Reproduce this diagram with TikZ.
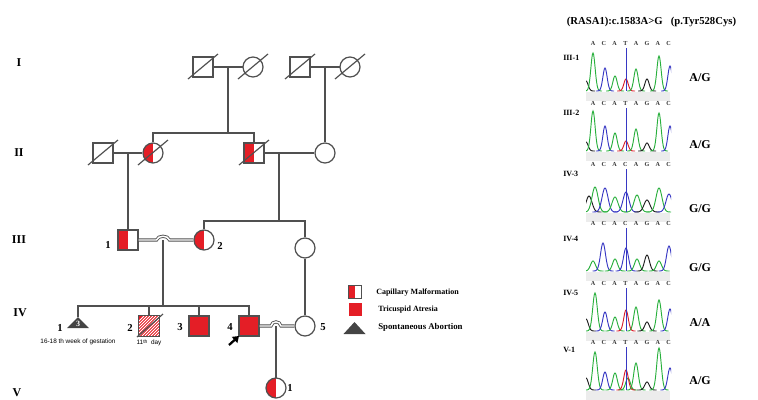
\documentclass[tikz,border=0pt]{standalone}
\usepackage{fontspec}
\setmainfont{Liberation Serif}
\newfontfamily\notefont{Liberation Sans}
\usetikzlibrary{arrows.meta}
\definecolor{pedgray}{RGB}{80,80,80}
\definecolor{cmred}{RGB}{228,30,38}
\definecolor{trigray}{RGB}{68,68,68}
\definecolor{chgreen}{RGB}{40,175,60}
\definecolor{chblue}{RGB}{55,55,195}
\definecolor{chred}{RGB}{215,30,45}
\definecolor{chblack}{RGB}{30,30,30}
\definecolor{bandgray}{RGB}{236,236,236}
\def\sg{3}
\newcommand\pk[4]{\draw[#4,line width=0.7pt] plot[domain={#1-3*\sg}:{#1+3*\sg},samples=31,smooth] (\x,{#2-#3*exp(0-((\x-#1)/\sg)^2)});}
\newcommand\chrom[3]{%
  \pgfmathsetmacro\B{#1+48}%
  \fill[bandgray] (586,\B+1) rectangle (670,\B+10);
  \foreach \c [count=\i from 0] in {#2} \node[seqletter] (seq-#1-\i) at ({593+10.8*\i},#1) {\c};
  \begin{scope}
    \clip (586,#1+4) rectangle (671,\B+0.6);
    #3
  \end{scope}
  \draw[chblue,line width=0.6pt] (626,#1+5) -- (626,\B);
}
\begin{document}
\begin{tikzpicture}[x=0.75pt,y=-0.75pt,
  pedline/.style={draw=pedgray,line width=0.9pt},
  sq/.style={rectangle,draw=pedgray,line width=0.9pt,minimum size=15pt,inner sep=0pt,fill=white},
  ci/.style={circle,draw=pedgray,line width=0.9pt,minimum size=15pt,inner sep=0pt,fill=white},
  halfred/.style={path picture={\fill[cmred] (path picture bounding box.south west) rectangle (path picture bounding box.north);}},
  fullred/.style={fill=cmred},
  dbl/.style={draw=pedgray,double=white,double distance=1.1pt,line width=0.65pt},
  gen/.style={font=\bfseries\fontsize{9}{9}\selectfont,inner sep=0pt},
  num/.style={font=\bfseries\fontsize{8}{8}\selectfont,inner sep=0pt},
  legtext/.style={font=\bfseries\fontsize{6}{6}\selectfont,inner sep=0pt,anchor=west},
  note/.style={font=\notefont\fontsize{4.8}{4.8}\selectfont,inner sep=0pt},
  seqletter/.style={font=\bfseries\fontsize{4.6}{4.6}\selectfont,inner sep=0pt,text=black!80},
  rowlab/.style={font=\bfseries\fontsize{6}{6}\selectfont,inner sep=0pt,anchor=west},
  geno/.style={font=\bfseries\fontsize{9}{9}\selectfont,inner sep=0pt}]
\useasboundingbox (0,0) rectangle (758,400);
\newcommand\dec[1]{\draw[pedline] ([shift={(-15,12)}]#1.center) -- ([shift={(15,-13)}]#1.center);}

% generation labels
\node[gen] (gI) at (19,63) {I};
\node[gen] (gII) at (19,153) {II};
\node[gen] (gIII) at (19,240) {III};
\node[gen] (gIV) at (20,313) {IV};
\node[gen] (gV) at (17,393) {V};

% Generation I
\coordinate (m1) at (228,67);
\coordinate (m2) at (325,67);
\draw[pedline] (203,67) -- (253,67);
\draw[pedline] (300,67) -- (350,67);
\node[sq] (I1) at (203,67) {};
\node[ci] (I2) at (253,67) {};
\node[sq] (I3) at (300,67) {};
\node[ci] (I4) at (350,67) {};
\dec{I1}\dec{I2}\dec{I3}\dec{I4}

% Generation II
\coordinate (sib2) at (228,133);
\coordinate (m3) at (128,153);
\coordinate (m4) at (279,153);
\node[sq] (II1) at (103,153) {};
\node[ci,halfred] (II2) at (153,153) {};
\node[sq,halfred] (II3) at (254,153) {};
\node[ci] (II4) at (325,153) {};
\draw[pedline] (m1) -- (sib2);
\draw[pedline] (II2.north) |- (sib2) -| (II3.north);
\draw[pedline] (m2) -- (II4);
\draw[pedline] (II1) -- (II2);
\draw[pedline] (II3) -- (II4);
\dec{II1}\dec{II2}\dec{II3}

% Generation III
\coordinate (sib3) at (279,221);
\coordinate (m5) at (163,240);
\coordinate (sib4) at (163,306);
\node[sq,halfred] (III1) at (128,240) {};
\node[ci,halfred] (III2) at (204,240) {};
\node[ci] (III3) at (305,248) {};
\draw[pedline] (m3) -- (III1);
\draw[pedline] (m4) -- (sib3);
\draw[pedline] (III2.north) |- (sib3) -| (III3.north);
\draw[pedline] (m5) -- (sib4);
\draw[dbl] (III1.east) -- (156.5,240) .. controls (158,235) and (168,235) .. (169.5,240) -- (III2.west);
\node[num] (n31) at (108,245) {1};
\node[num] (n32) at (220,246) {2};

% Generation IV
\coordinate (IV1) at (78,317);
\coordinate (m6) at (276,326);
\node[sq] (IV2) at (149,326) {};
\node[sq,fullred] (IV3) at (199,326) {};
\node[sq,fullred] (IV4) at (249,326) {};
\node[ci] (IV5) at (305,326) {};
\draw[pedline] (IV1) |- (sib4) -| (IV4.north);
\draw[pedline] (IV2.north) -- (IV2.north |- sib4);
\draw[pedline] (IV3.north) -- (IV3.north |- sib4);
\draw[pedline] (III3) -- (IV5);
\draw[dbl] (IV4.east) -- (271,326) .. controls (272,320.5) and (280,320.5) .. (281,326) -- (IV5.west);
\draw[pedline] (m6) -- (276,378);
% IV-1 triangle
\fill[trigray] (IV1) -- (89,328) -- (67,328) -- cycle;
\node[font=\bfseries\fontsize{6}{6}\selectfont,text=white,inner sep=0pt] (t3) at (78,323.5) {3};
% IV-2 hatched
\begin{scope}
  \clip (139,316) rectangle (159,336);
  \fill[cmred] (139,316) rectangle (159,336);
  \foreach \k in {0,...,14} \draw[white,line width=0.55pt] (124+3*\k,336) -- (144+3*\k,316);
\end{scope}
\draw[pedline] (IV2.south west) rectangle (IV2.north east);
\draw[pedline] ([shift={(-12,11)}]IV2.center) -- ([shift={(14,-12)}]IV2.center);
% numbers IV
\node[num] (n41) at (60,328) {1};
\node[num] (n42) at (130,328) {2};
\node[num] (n43) at (180,327) {3};
\node[num] (n44) at (230,327) {4};
\node[num] (n45) at (323,327) {5};
\node[note] (w1) at (78,342) {16-18 th week of gestation};
\node[note] (w2) at (149,342.5) {11\raisebox{0.3ex}{\fontsize{3.8}{3.8}\selectfont th}\ \ day};
% proband arrow
\coordinate (pa) at (229,345);
\coordinate (pb) at (239,336);
\draw[black,line width=1.7pt,-{Triangle[length=4.5pt,width=6pt]}] (pa) -- (pb);

% Generation V
\node[ci,halfred] (V1) at (276,388) {};
\node[num] (n51) at (290,388) {1};

% legend
\node[rectangle,draw=pedgray,line width=0.7pt,minimum size=9.75pt,inner sep=0pt,fill=white,halfred] (L1) at (355,292) {};
\node[rectangle,minimum size=9.75pt,inner sep=0pt,fill=cmred] (L2) at (355,309.5) {};
\coordinate (L3) at (354.5,322);
\fill[trigray] (L3) -- (365.5,334) -- (343.5,334) -- cycle;
\node[legtext] (T1) at (376,293) {Capillary Malformation};
\node[legtext] (T2) at (378,310) {Tricuspid Atresia};
\node[legtext,font=\bfseries\fontsize{6.6}{6.6}\selectfont] (T3) at (378,327.5) {Spontaneous Abortion};

% chromatogram column
\node[font=\bfseries\fontsize{8}{8}\selectfont,inner sep=0pt] (title) at (651.5,22) {(RASA1):c.1583A>G\ \ \ (p.Tyr528Cys)};

\chrom{43}{A,C,A,T,A,G,A,C}{%
  \pk{586}{\B}{10}{chblack}\pk{593}{\B}{38}{chgreen}\pk{605}{\B}{23}{chblue}\pk{615}{\B}{15}{chgreen}
  \pk{626}{\B}{12}{chred}\pk{636}{\B}{22}{chgreen}\pk{647}{\B}{12}{chblack}\pk{659}{\B}{35}{chgreen}\pk{670}{\B}{25}{chblue}}
\chrom{103}{A,C,A,T,A,G,A,C}{%
  \pk{586}{\B}{9}{chblack}\pk{593}{\B}{40}{chgreen}\pk{605}{\B}{25}{chblue}\pk{615}{\B}{18}{chgreen}
  \pk{626}{\B}{10}{chred}\pk{636}{\B}{22}{chgreen}\pk{647}{\B}{8}{chblack}\pk{659}{\B}{38}{chgreen}\pk{670}{\B}{25}{chblue}}
\def\sg{4.2}
\chrom{164}{A,C,A,C,A,G,A,C}{%
  \pk{589}{\B}{16}{chblack}\pk{595}{\B}{25}{chgreen}\pk{605}{\B}{24}{chblue}\pk{615}{\B}{15}{chgreen}
  \pk{626}{\B}{20}{chblue}\pk{637}{\B}{17}{chgreen}\pk{647}{\B}{12}{chblack}\pk{659}{\B}{24}{chgreen}\pk{669}{\B}{18}{chblue}}
\def\sg{3.5}
\chrom{223}{A,C,A,C,A,G,A,C}{%
  \pk{593}{\B}{10}{chgreen}\pk{603}{\B}{28}{chblue}\pk{615}{\B}{12}{chgreen}
  \pk{626}{\B}{23}{chblue}\pk{637}{\B}{12}{chgreen}\pk{647}{\B}{16}{chblack}\pk{659}{\B}{10}{chgreen}\pk{669}{\B}{25}{chblue}}
\def\sg{3.2}
\chrom{283}{A,C,A,T,A,G,A,C}{%
  \pk{586}{\B}{12}{chblack}\pk{595}{\B}{38}{chgreen}\pk{605}{\B}{19}{chblue}\pk{615}{\B}{14}{chgreen}
  \pk{626}{\B}{21}{chred}\pk{636}{\B}{24}{chgreen}\pk{647}{\B}{9}{chblack}\pk{659}{\B}{31}{chgreen}\pk{670}{\B}{22}{chblue}}
\chrom{342}{A,C,A,T,A,G,A,C}{%
  \pk{586}{\B}{12}{chblack}\pk{595}{\B}{38}{chgreen}\pk{605}{\B}{18}{chblue}\pk{615}{\B}{17}{chgreen}
  \pk{628}{\B}{12}{chgreen}\pk{626}{\B}{20}{chred}\pk{636}{\B}{27}{chgreen}\pk{647}{\B}{8}{chblack}\pk{659}{\B}{42}{chgreen}\pk{670}{\B}{22}{chblue}}

\node[rowlab] (r1) at (563,58) {III-1};
\node[rowlab] (r2) at (563,113) {III-2};
\node[rowlab] (r3) at (563,174) {IV-3};
\node[rowlab] (r4) at (563,239) {IV-4};
\node[rowlab] (r5) at (563,293) {IV-5};
\node[rowlab] (r6) at (563,350) {V-1};

\node[geno] (g1) at (700,78) {A/G};
\node[geno] (g2) at (700,145) {A/G};
\node[geno] (g3) at (700,209) {G/G};
\node[geno] (g4) at (700,268) {G/G};
\node[geno] (g5) at (700,323) {A/A};
\node[geno] (g6) at (700,381) {A/G};
\end{tikzpicture}
\end{document}
